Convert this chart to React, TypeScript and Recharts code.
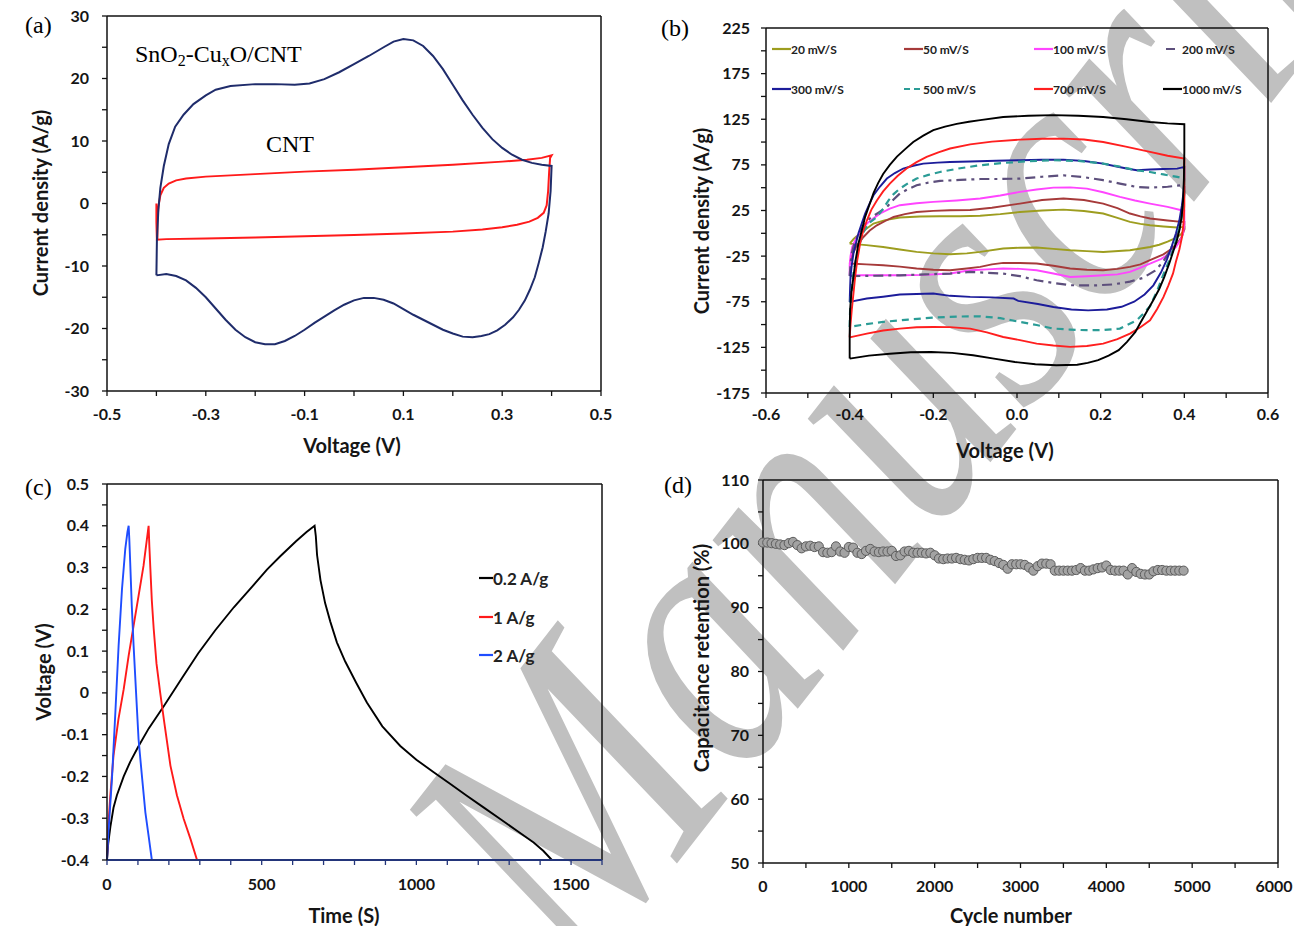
import { LineChart, Line, XAxis, YAxis, ReferenceLine, ScatterChart, Scatter } from 'recharts';

const SANS = 'Lato, "Open Sans", sans-serif';
const SERIF = '"Liberation Serif", "Times New Roman", serif';
const INK = '#151515';

// ---------- (a) CV at one scan rate: [voltage, current density] ----------
const A_COMPOSITE = [
  [-0.4, -11.5], [-0.399, -6], [-0.396, -1], [-0.392, 2.5], [-0.385, 6], [-0.375, 9.5], [-0.362, 12.3],
  [-0.345, 14.2], [-0.325, 15.9], [-0.3, 17.3], [-0.28, 18.2], [-0.25, 18.8], [-0.2, 19.1], [-0.16, 19.1],
  [-0.12, 19], [-0.09, 19.2], [-0.06, 19.9], [-0.03, 21], [0, 22.3], [0.03, 23.6], [0.06, 25], [0.08, 25.9],
  [0.1, 26.3], [0.12, 26.1], [0.14, 25.2], [0.16, 23.6], [0.18, 21.5], [0.2, 19], [0.22, 16.5], [0.24, 14.2],
  [0.26, 12.1], [0.28, 10.3], [0.3, 8.9], [0.32, 7.8], [0.34, 7], [0.36, 6.5], [0.38, 6.2], [0.4, 6],
  [0.398, 2], [0.394, -1.6], [0.388, -4.5], [0.382, -7], [0.374, -9.5], [0.366, -11.8], [0.356, -13.8],
  [0.346, -15.5], [0.334, -17], [0.322, -18.2], [0.306, -19.4], [0.29, -20.3], [0.274, -20.9], [0.258, -21.2],
  [0.24, -21.4], [0.22, -21.3], [0.2, -20.8], [0.18, -20.2], [0.16, -19.4], [0.14, -18.6], [0.12, -17.8],
  [0.1, -16.9], [0.08, -16], [0.06, -15.4], [0.04, -15.1], [0.02, -15.1], [0, -15.5], [-0.02, -16.2],
  [-0.04, -17.1], [-0.06, -18.1], [-0.08, -19.1], [-0.1, -20.2], [-0.12, -21.2], [-0.14, -22], [-0.16, -22.5],
  [-0.18, -22.5], [-0.2, -22.2], [-0.22, -21.4], [-0.24, -20.2], [-0.26, -18.6], [-0.28, -16.8], [-0.3, -15],
  [-0.32, -13.5], [-0.34, -12.3], [-0.36, -11.6], [-0.38, -11.3], [-0.4, -11.5],
];
const A_CNT = [
  [-0.4, 0], [-0.4, -3], [-0.399, -5.8], [-0.38, -5.7], [-0.3, -5.6], [-0.2, -5.45], [-0.1, -5.25], [0, -5.05],
  [0.1, -4.8], [0.2, -4.5], [0.26, -4.15], [0.3, -3.8], [0.33, -3.4], [0.355, -2.9], [0.372, -2.3], [0.384, -1.5],
  [0.39, -0.3], [0.393, 2], [0.395, 5], [0.397, 7.3], [0.4, 7.7], [0.38, 7.3], [0.35, 7], [0.3, 6.7], [0.2, 6.2],
  [0.1, 5.8], [0, 5.4], [-0.1, 5.1], [-0.2, 4.7], [-0.3, 4.3], [-0.34, 4], [-0.36, 3.7], [-0.375, 3.2],
  [-0.385, 2.5], [-0.392, 1.3], [-0.396, -0.5], [-0.398, -3], [-0.398, -5.7],
];
const A_X_TICKS = [-0.5, -0.4, -0.3, -0.2, -0.1, 0, 0.1, 0.2, 0.3, 0.4, 0.5];
const A_X_LABELS = [-0.5, -0.3, -0.1, 0.1, 0.3, 0.5];
const A_Y_TICKS = [-30, -25, -20, -15, -10, -5, 0, 5, 10, 15, 20, 25, 30];
const A_Y_LABELS = [-30, -20, -10, 0, 10, 20, 30];

// ---------- (b) CV at several scan rates ----------
const B_20 = [
  [-0.4, -11.3], [-0.39, -6], [-0.375, 0], [-0.36, 5], [-0.343, 10.7], [-0.315, 14.5], [-0.28, 17.3],
  [-0.232, 18.5], [-0.184, 18.7], [-0.136, 18.7], [-0.088, 19.2], [-0.04, 21], [0.007, 23.4], [0.06, 25],
  [0.111, 26], [0.16, 24.5], [0.206, 21.7], [0.24, 17], [0.27, 12.5], [0.295, 10.3], [0.318, 8.8], [0.35, 7.5],
  [0.383, 6.3], [0.4, 7], [0.4, 4], [0.392, -1], [0.38, -5], [0.36, -9], [0.34, -12.5], [0.318, -15],
  [0.27, -18.5], [0.206, -20.4], [0.167, -19.5], [0.127, -18.5], [0.087, -17], [0.047, -15.6], [0.007, -15.8],
  [-0.033, -16.7], [-0.088, -20.4], [-0.12, -22], [-0.16, -23], [-0.2, -22], [-0.24, -20.4], [-0.28, -17.8],
  [-0.32, -15], [-0.36, -13], [-0.4, -11.3],
];
const B_50 = [
  [-0.4, -33.1], [-0.395, -25], [-0.385, -15], [-0.367, -4], [-0.352, 3], [-0.335, 8.8], [-0.315, 13.5],
  [-0.295, 17.9], [-0.268, 21], [-0.24, 23.4], [-0.2, 24.6], [-0.16, 25.3], [-0.112, 25.5], [-0.06, 28],
  [0.007, 32.6], [0.06, 36.5], [0.111, 38.1], [0.16, 36.5], [0.206, 32.6], [0.24, 27.5], [0.27, 21.7],
  [0.295, 18.5], [0.318, 16.2], [0.36, 14], [0.393, 12.5], [0.4, 12.5], [0.4, 5], [0.395, -3], [0.385, -10],
  [0.37, -17], [0.35, -23], [0.318, -29.5], [0.295, -34], [0.27, -36.8], [0.24, -39], [0.206, -40.5],
  [0.167, -40], [0.127, -38.6], [0.087, -35.5], [0.047, -33.1], [0.007, -32.6], [-0.033, -32.4], [-0.06, -34],
  [-0.088, -36.8], [-0.12, -38.5], [-0.16, -40.5], [-0.2, -40], [-0.24, -38.6], [-0.28, -36.5], [-0.32, -35],
  [-0.36, -34], [-0.4, -33.1],
];
const B_100 = [
  [-0.4, -46], [-0.4, -35], [-0.398, -25], [-0.394, -15], [-0.383, -4], [-0.372, 3], [-0.359, 10.7],
  [-0.343, 16.5], [-0.327, 21.7], [-0.304, 27], [-0.28, 30.8], [-0.24, 33], [-0.2, 34.4], [-0.144, 36],
  [-0.088, 38.1], [-0.04, 41.5], [0.007, 45.4], [0.047, 48], [0.087, 50.1], [0.127, 50.3], [0.167, 49],
  [0.206, 45], [0.246, 39.9], [0.282, 36], [0.318, 32.6], [0.36, 29], [0.393, 25.3], [0.4, 25], [0.4, 10],
  [0.397, 0], [0.39, -8], [0.38, -15], [0.365, -22], [0.345, -28], [0.318, -33.1], [0.294, -38], [0.27, -42.3],
  [0.24, -45], [0.206, -46], [0.167, -47], [0.127, -47.8], [0.087, -44], [0.047, -40.5], [0.007, -39],
  [-0.033, -38.6], [-0.072, -39.5], [-0.112, -40.5], [-0.16, -44.1], [-0.22, -45.5], [-0.28, -46], [-0.34, -46],
  [-0.4, -46],
];
const B_200 = [
  [-0.4, -47], [-0.398, -35], [-0.395, -22], [-0.388, -10], [-0.378, 0], [-0.365, 10], [-0.35, 17], [-0.33, 23],
  [-0.311, 28.9], [-0.295, 37], [-0.28, 43.6], [-0.26, 48.5], [-0.24, 52.7], [-0.212, 55.5], [-0.184, 57.4],
  [-0.136, 58.5], [-0.088, 59.5], [-0.04, 59.5], [0.007, 60], [0.06, 62], [0.111, 63.6], [0.16, 61.5],
  [0.206, 58.2], [0.246, 54.5], [0.286, 50.8], [0.318, 50.1], [0.36, 51], [0.393, 52.7], [0.4, 53], [0.4, 45],
  [0.397, 30], [0.39, 12], [0.38, -5], [0.365, -20], [0.348, -32], [0.33, -41], [0.3, -49], [0.27, -53],
  [0.23, -56], [0.19, -57], [0.15, -57], [0.127, -56.9], [0.087, -54.5], [0.047, -51.4], [0.007, -47],
  [-0.033, -44.1], [-0.112, -42.3], [-0.16, -44.1], [-0.22, -45], [-0.28, -46], [-0.34, -46.5], [-0.4, -47],
];
const B_300 = [
  [-0.4, -75.2], [-0.399, -60], [-0.398, -47.8], [-0.395, -35], [-0.391, -22.2], [-0.385, -11], [-0.379, 0],
  [-0.371, 11], [-0.363, 21.7], [-0.353, 32], [-0.343, 41.7], [-0.328, 51], [-0.311, 60], [-0.292, 66],
  [-0.272, 71], [-0.248, 74], [-0.224, 76.4], [-0.19, 77.5], [-0.16, 78.2], [-0.112, 78.7], [-0.05, 79.5],
  [0.007, 80.1], [0.06, 80.6], [0.111, 80.8], [0.16, 79.3], [0.206, 76.4], [0.235, 73.5], [0.262, 71],
  [0.286, 69.1], [0.318, 69.9], [0.35, 70.5], [0.383, 70.9], [0.4, 72.8], [0.4, 60], [0.398, 45], [0.394, 30],
  [0.388, 14], [0.38, 0], [0.37, -14], [0.358, -29], [0.344, -43], [0.326, -57], [0.305, -67], [0.28, -75],
  [0.25, -80.5], [0.215, -83.5], [0.17, -84.5], [0.13, -83.5], [0.087, -80.7], [0.05, -77.5], [0.003, -74],
  [-0.008, -71.5], [-0.06, -70.2], [-0.112, -69.7], [-0.16, -68.5], [-0.2, -66], [-0.24, -66.5], [-0.28, -67.1],
  [-0.32, -69.5], [-0.359, -71.5], [-0.4, -75.2],
];
const B_500 = [
  [-0.4, -102.6], [-0.399, -85], [-0.397, -70], [-0.394, -55], [-0.39, -40], [-0.383, -25], [-0.375, -10],
  [-0.365, 3], [-0.352, 12], [-0.335, 17.9], [-0.32, 27], [-0.307, 36.2], [-0.295, 43], [-0.28, 49], [-0.26, 55],
  [-0.24, 60], [-0.212, 64], [-0.184, 67.2], [-0.14, 71], [-0.088, 74.6], [-0.033, 77.1], [0.027, 79],
  [0.087, 80.1], [0.147, 79.3], [0.206, 76.4], [0.246, 73], [0.286, 69.1], [0.318, 67.2], [0.35, 64.5],
  [0.383, 61.8], [0.4, 60], [0.4, 45], [0.398, 30], [0.393, 15], [0.385, 0], [0.375, -15], [0.362, -32],
  [0.35, -45], [0.335, -63], [0.318, -80], [0.3, -89], [0.286, -95.3], [0.246, -104.4], [0.207, -106],
  [0.167, -106.2], [0.127, -105.5], [0.087, -104.4], [0.047, -100.5], [0.007, -97.1], [-0.04, -93],
  [-0.088, -90.9], [-0.14, -91.2], [-0.2, -92.3], [-0.26, -94.5], [-0.32, -97.1], [-0.36, -99.5], [-0.4, -102.6],
];
const B_700 = [
  [-0.4, -114], [-0.398, -100], [-0.395, -84], [-0.391, -66], [-0.387, -48], [-0.382, -30], [-0.375, -11],
  [-0.368, 2], [-0.359, 14], [-0.348, 26], [-0.335, 36], [-0.32, 46], [-0.304, 54.5], [-0.285, 63], [-0.264, 71],
  [-0.24, 78], [-0.216, 83.7], [-0.188, 88.8], [-0.16, 92.9], [-0.112, 97.5], [-0.06, 100.5], [0.007, 102.7],
  [0.06, 103.6], [0.111, 103.8], [0.16, 102.8], [0.206, 100.1], [0.26, 95], [0.318, 89.2], [0.36, 85], [0.4, 82],
  [0.4, 60], [0.4, 30], [0.398, 10], [0.394, -5], [0.388, -18], [0.38, -31], [0.373, -44], [0.362, -57],
  [0.35, -70], [0.335, -83], [0.318, -95.3], [0.295, -103], [0.27, -109.9], [0.24, -116], [0.206, -120.9],
  [0.167, -123.5], [0.127, -124.5], [0.087, -123], [0.047, -120.9], [0.007, -117], [-0.033, -113.6],
  [-0.072, -108.5], [-0.112, -104.4], [-0.16, -102.8], [-0.2, -102.6], [-0.24, -103], [-0.28, -104.4],
  [-0.32, -106.5], [-0.359, -109.9], [-0.4, -114],
];
const B_1000 = [
  [-0.4, -137.3], [-0.4, -110], [-0.399, -84], [-0.396, -65], [-0.391, -48], [-0.386, -30], [-0.379, -11],
  [-0.371, 3], [-0.363, 18], [-0.353, 31], [-0.343, 44], [-0.332, 55], [-0.32, 65], [-0.304, 75], [-0.287, 84],
  [-0.268, 92], [-0.248, 100], [-0.224, 107], [-0.2, 113], [-0.172, 117], [-0.144, 120], [-0.115, 122.3],
  [-0.088, 124], [-0.033, 127.5], [0.027, 128.8], [0.087, 129.5], [0.147, 128.8], [0.206, 127.5], [0.262, 125],
  [0.318, 122], [0.36, 120.5], [0.4, 119.5], [0.4, 90], [0.399, 60], [0.397, 36], [0.394, 20], [0.389, 5],
  [0.382, -8], [0.374, -19], [0.364, -33], [0.352, -48], [0.34, -61], [0.326, -73], [0.31, -86], [0.295, -98],
  [0.283, -108], [0.263, -119], [0.243, -128], [0.219, -134], [0.194, -139], [0.169, -142], [0.144, -144],
  [0.094, -144.6], [0.044, -143.5], [-0.005, -141], [-0.055, -137.3], [-0.105, -133.7], [-0.155, -131],
  [-0.205, -130], [-0.254, -130.4], [-0.304, -132], [-0.354, -134], [-0.4, -137.3],
];
const B_X_TICKS = [-0.6, -0.5, -0.4, -0.3, -0.2, -0.1, 0, 0.1, 0.2, 0.3, 0.4, 0.5, 0.6];
const B_X_LABELS = [-0.6, -0.4, -0.2, 0, 0.2, 0.4, 0.6];
const B_Y_TICKS = [-175, -150, -125, -100, -75, -50, -25, 0, 25, 50, 75, 100, 125, 150, 175, 200, 225];
const B_Y_LABELS = [-175, -125, -75, -25, 25, 75, 125, 175, 225];

// ---------- (c) charge / discharge: [time s, voltage] ----------
const C_02 = [
  [0, -0.4], [4, -0.36], [11, -0.32], [21, -0.275], [32, -0.245], [54, -0.2], [75, -0.165], [100, -0.13],
  [135, -0.085], [185, -0.03], [242, 0.035], [295, 0.095], [350, 0.15], [410, 0.205], [470, 0.255],
  [517, 0.295], [560, 0.327], [611, 0.363], [645, 0.385], [671, 0.4], [675, 0.375], [679, 0.33], [690, 0.27],
  [705, 0.215], [722, 0.17], [743, 0.121], [770, 0.075], [805, 0.025], [840, -0.023], [890, -0.08],
  [948, -0.127], [1000, -0.16], [1056, -0.19], [1110, -0.218], [1163, -0.246], [1217, -0.274], [1271, -0.302],
  [1325, -0.33], [1379, -0.358], [1410, -0.378], [1438, -0.4],
];
const C_1 = [
  [0, -0.4], [4, -0.32], [10.7, -0.246], [21, -0.15], [37, -0.063], [54, 0.009], [70, 0.089], [86, 0.161],
  [102, 0.232], [118, 0.304], [129, 0.368], [134.5, 0.4], [137, 0.35], [140, 0.3], [145, 0.22], [151, 0.153],
  [160, 0.07], [172, 0], [185, -0.07], [205, -0.174], [226, -0.245], [248, -0.302], [270, -0.35], [291, -0.4],
];
const C_2 = [
  [0, -0.4], [5, -0.33], [16, -0.206], [27, -0.047], [37.5, 0.113], [48.5, 0.249], [59, 0.344], [66, 0.385],
  [70, 0.4], [72, 0.37], [75, 0.312], [80, 0.21], [86, 0.113], [94, 0], [102, -0.111], [113, -0.2], [124, -0.286],
  [135, -0.345], [145, -0.4],
];
const C_X_TICKS = [0, 100, 200, 300, 400, 500, 600, 700, 800, 900, 1000, 1100, 1200, 1300, 1400, 1500, 1600];
const C_X_LABELS = [0, 500, 1000, 1500];
const C_Y_TICKS = [-0.4, -0.35, -0.3, -0.25, -0.2, -0.15, -0.1, -0.05, 0, 0.05, 0.1, 0.15, 0.2, 0.25, 0.3, 0.35, 0.4, 0.45, 0.5];
const C_Y_LABELS = [-0.4, -0.3, -0.2, -0.1, 0, 0.1, 0.2, 0.3, 0.4, 0.5];

// ---------- (d) cycling stability ----------
const D_CYCLES = [
  0, 50, 100, 150, 200, 250, 300, 350, 400, 450, 500, 550, 600, 650, 700, 750, 800, 850, 900, 950,
  1000, 1050, 1100, 1150, 1200, 1250, 1300, 1350, 1400, 1450, 1500, 1550, 1600, 1650, 1700, 1750, 1800, 1850, 1900, 1950,
  2000, 2050, 2100, 2150, 2200, 2250, 2300, 2350, 2400, 2450, 2500, 2550, 2600, 2650, 2700, 2750, 2800, 2850, 2900, 2950,
  3000, 3050, 3100, 3150, 3200, 3250, 3300, 3350, 3400, 3450, 3500, 3550, 3600, 3650, 3700, 3750, 3800, 3850, 3900, 3950,
  4000, 4050, 4100, 4150, 4200, 4250, 4300, 4350, 4400, 4450, 4500, 4550, 4600, 4650, 4700, 4750, 4800, 4850, 4900,
];
const D_RETENTION = [
  100.2, 100.2, 100.1, 100.0, 99.9, 99.8, 100.1, 100.3, 99.8, 99.3, 99.6, 99.7, 99.5, 99.6, 98.7, 98.6, 98.7, 99.6, 98.8, 98.6,
  99.5, 99.4, 98.6, 98.4, 98.9, 99.2, 98.8, 98.7, 98.8, 98.8, 98.9, 98.1, 98.2, 98.8, 98.9, 98.6, 98.6, 98.6, 98.5, 98.6,
  98.2, 97.7, 97.6, 97.7, 97.7, 97.8, 97.6, 97.5, 97.4, 97.6, 97.8, 97.8, 97.8, 97.5, 97.3, 97.0, 96.7, 96.1, 96.8, 96.8,
  96.8, 96.7, 96.3, 95.8, 96.5, 96.9, 96.9, 96.8, 95.8, 95.8, 95.8, 95.8, 95.8, 95.9, 96.2, 95.8, 95.8, 96.0, 96.2, 96.3,
  96.6, 95.9, 95.8, 95.8, 95.8, 95.2, 96.2, 95.6, 95.3, 95.2, 95.2, 95.7, 95.9, 95.9, 95.8, 95.8, 95.8, 95.8, 95.8,
];
const D_X_TICKS = [0, 500, 1000, 1500, 2000, 2500, 3000, 3500, 4000, 4500, 5000, 5500, 6000];
const D_X_LABELS = [0, 1000, 2000, 3000, 4000, 5000, 6000];
const D_Y_TICKS = [50, 55, 60, 65, 70, 75, 80, 85, 90, 95, 100, 105, 110];
const D_Y_LABELS = [50, 60, 70, 80, 90, 100, 110];

const toPts = (rows: number[][]) => rows.map(([x, y]) => ({ x, y }));
const retention = D_CYCLES.map((c, i) => ({ x: c, y: D_RETENTION[i] }));

const B_SERIES = [
  { name: '20 mV/S', data: B_20, color: '#9d9d1f', dash: undefined },
  { name: '50 mV/S', data: B_50, color: '#a63a3a', dash: undefined },
  { name: '100 mV/S', data: B_100, color: '#ff45ff', dash: undefined },
  { name: '200 mV/S', data: B_200, color: '#5d4f7c', dash: '10 5 3 5' },
  { name: '300 mV/S', data: B_300, color: '#1c1c9a', dash: undefined },
  { name: '500 mV/S', data: B_500, color: '#2b9c96', dash: '7 5' },
  { name: '700 mV/S', data: B_700, color: '#ff1f1f', dash: undefined },
  { name: '1000 mV/S', data: B_1000, color: '#000000', dash: undefined },
];
const C_SERIES = [
  { name: '0.2 A/g', data: C_02, color: '#000000' },
  { name: '1 A/g', data: C_1, color: '#ff1a1a' },
  { name: '2 A/g', data: C_2, color: '#1f4dff' },
];

const hasLabel = (labels: number[], v: number) => labels.some((l) => Math.abs(l - v) < 1e-9);

// tick renderer: every tick gets a mark, only the listed ones get text
const makeTick = (labels: number[], fmt: (v: number) => string, side: 'x' | 'y', maxX = Infinity) => (props: any) => {
  const { x, y, payload } = props;
  if (!hasLabel(labels, payload.value)) return <g />;
  return (
    <text
      x={Math.min(x, maxX)}
      y={y}
      dy={side === 'x' ? '0.71em' : '0.35em'}
      textAnchor={side === 'x' ? 'middle' : 'end'}
      fontFamily={SANS}
      fontWeight={700}
      fontSize={16}
      fill={INK}
    >
      {fmt(payload.value)}
    </text>
  );
};

const xTitle = (text: string, cx: number, cy: number) => () => (
  <text x={cx} y={cy} textAnchor="middle" dominantBaseline="central" fontFamily={SANS} fontWeight={700} fontSize={20} fill={INK}>
    {text}
  </text>
);
const yTitle = (text: string, cx: number, cy: number) => () => (
  <text
    x={cx}
    y={cy}
    transform={`rotate(-90 ${cx} ${cy})`}
    textAnchor="middle"
    dominantBaseline="central"
    fontFamily={SANS}
    fontWeight={700}
    fontSize={20}
    fill={INK}
  >
    {text}
  </text>
);

const fix1 = (v: number) => v.toFixed(1);
const int = (v: number) => String(Math.round(v));
const volt = (v: number) => (Math.abs(v) < 1e-9 ? '0' : v.toFixed(1));

const axisLine = { stroke: '#111', strokeWidth: 1.5 };
const tickLine = { stroke: '#111', strokeWidth: 1.3 };
const Y_W = 60;
const X_H = 50;

const PanelLabel = ({ text, left, top }: { text: string; left: number; top: number }) => (
  <div style={{ position: 'absolute', left, top, fontFamily: SERIF, fontSize: 24, lineHeight: 1, color: '#000' }}>{text}</div>
);

const Swatch = ({ color, dash, width }: { color: string; dash?: string; width: number }) => (
  <svg width={width} height={4} style={{ display: 'block', flex: 'none' }}>
    <line x1={0} y1={2} x2={width} y2={2} stroke={color} strokeWidth={2.2} strokeDasharray={dash} />
  </svg>
);

// legend slots for (b)
const B_LEGEND_X = [772, 904, 1034, 1163];
const B_LEGEND_Y = [49, 89];
const C_LEGEND_Y = [578, 617, 655];

export default function App() {
  return (
    <div style={{ position: 'absolute', left: 0, top: 0, width: 1294, height: 926, background: '#fff', overflow: 'hidden' }}>
      {/* watermark behind the plots */}
      <svg width={1294} height={926} style={{ position: 'absolute', left: 0, top: 0 }}>
        <text
          transform="translate(582 985) rotate(-52) scale(1 1.2)"
          fontFamily={SERIF}
          fontStyle="italic"
          fontSize={310}
          fill="#c0c0c0"
        >
          Manuscript
        </text>
      </svg>

      {/* (a) */}
      <div style={{ position: 'absolute', left: 0, top: 0 }}>
        <LineChart width={620} height={470} margin={{ top: 16, right: 19, bottom: 470 - 391 - X_H, left: 107 - Y_W }}>
          <XAxis
            type="number"
            dataKey="x"
            domain={[-0.5, 0.5]}
            ticks={A_X_TICKS}
            interval={0}
            height={X_H}
            axisLine={axisLine}
            tickLine={tickLine}
            tickSize={5}
            tickMargin={13}
            tick={makeTick(A_X_LABELS, fix1, 'x')}
            label={xTitle('Voltage (V)', 352, 445)}
          />
          <YAxis
            type="number"
            domain={[-30, 30]}
            ticks={A_Y_TICKS}
            interval={0}
            width={Y_W}
            axisLine={axisLine}
            tickLine={tickLine}
            tickSize={5}
            tickMargin={13}
            tick={makeTick(A_Y_LABELS, int, 'y')}
            label={yTitle('Current density (A/g)', 40, 203)}
          />
          <ReferenceLine y={30} stroke="#111" strokeWidth={1.5} />
          <ReferenceLine x={0.5} stroke="#111" strokeWidth={1.5} />
          <Line data={toPts(A_CNT)} dataKey="y" type="linear" stroke="#ff1a1a" strokeWidth={2} dot={false} isAnimationActive={false} />
          <Line data={toPts(A_COMPOSITE)} dataKey="y" type="linear" stroke="#1f2c6b" strokeWidth={2} dot={false} isAnimationActive={false} />
        </LineChart>
      </div>
      <div style={{ position: 'absolute', left: 135, top: 41, fontFamily: SERIF, fontSize: 24, lineHeight: 1.1, color: '#000', whiteSpace: 'nowrap' }}>
        SnO<span style={{ fontSize: 16, verticalAlign: -4 }}>2</span>-Cu<span style={{ fontSize: 16, verticalAlign: -4 }}>x</span>O/CNT
      </div>
      <div style={{ position: 'absolute', left: 266, top: 131, fontFamily: SERIF, fontSize: 24, lineHeight: 1.1, color: '#000' }}>CNT</div>
      <PanelLabel text="(a)" left={25} top={13} />

      {/* (b) */}
      <div style={{ position: 'absolute', left: 640, top: 0 }}>
        <LineChart width={654} height={470} margin={{ top: 28, right: 640 + 654 - 1268, bottom: 470 - 393 - X_H, left: 766 - 640 - Y_W }}>
          <XAxis
            type="number"
            dataKey="x"
            domain={[-0.6, 0.6]}
            ticks={B_X_TICKS}
            interval={0}
            height={X_H}
            axisLine={axisLine}
            tickLine={tickLine}
            tickSize={5}
            tickMargin={11}
            tick={makeTick(B_X_LABELS, fix1, 'x')}
            label={xTitle('Voltage (V)', 365, 450)}
          />
          <YAxis
            type="number"
            domain={[-175, 225]}
            ticks={B_Y_TICKS}
            interval={0}
            width={Y_W}
            axisLine={axisLine}
            tickLine={tickLine}
            tickSize={5}
            tickMargin={11}
            tick={makeTick(B_Y_LABELS, int, 'y')}
            label={yTitle('Current density (A/g)', 61, 221)}
          />
          <ReferenceLine y={225} stroke="#111" strokeWidth={1.5} />
          <ReferenceLine x={0.6} stroke="#111" strokeWidth={1.5} />
          {B_SERIES.map((s) => (
            <Line
              key={s.name}
              name={s.name}
              data={toPts(s.data)}
              dataKey="y"
              type="linear"
              stroke={s.color}
              strokeWidth={s.dash ? 2.2 : 1.9}
              strokeDasharray={s.dash}
              dot={false}
              isAnimationActive={false}
            />
          ))}
        </LineChart>
      </div>
      {B_SERIES.map((s, i) => (
        <div
          key={s.name}
          style={{
            position: 'absolute',
            left: B_LEGEND_X[i % 4],
            top: B_LEGEND_Y[Math.floor(i / 4)] - 8,
            height: 16,
            display: 'flex',
            alignItems: 'center',
            fontFamily: SANS,
            fontWeight: 700,
            fontSize: 12,
            color: '#222',
            whiteSpace: 'nowrap',
          }}
        >
          <Swatch color={s.color} dash={s.dash ? (s.name === '200 mV/S' ? '0 3 9 7' : '6 4') : undefined} width={19} />
          <span>{s.name}</span>
        </div>
      ))}
      <PanelLabel text="(b)" left={661} top={16} />

      {/* (c) */}
      <div style={{ position: 'absolute', left: 0, top: 470 }}>
        <LineChart width={620} height={456} margin={{ top: 14, right: 18, bottom: 926 - 860 - X_H, left: 107 - Y_W }}>
          <XAxis
            type="number"
            dataKey="x"
            domain={[0, 1600]}
            ticks={C_X_TICKS}
            interval={0}
            height={X_H}
            axisLine={{ stroke: '#23357a', strokeWidth: 1.8 }}
            tickLine={{ stroke: '#23357a', strokeWidth: 1.3 }}
            tickSize={5}
            tickMargin={14}
            tick={makeTick(C_X_LABELS, int, 'x')}
            label={xTitle('Time (S)', 344, 445)}
          />
          <YAxis
            type="number"
            domain={[-0.4, 0.5]}
            ticks={C_Y_TICKS}
            interval={0}
            width={Y_W}
            axisLine={axisLine}
            tickLine={tickLine}
            tickSize={5}
            tickMargin={13}
            tick={makeTick(C_Y_LABELS, volt, 'y')}
            label={yTitle('Voltage (V)', 43, 202)}
          />
          <ReferenceLine y={0.5} stroke="#111" strokeWidth={1.5} />
          <ReferenceLine x={1600} stroke="#111" strokeWidth={1.5} />
          {C_SERIES.map((s) => (
            <Line key={s.name} name={s.name} data={toPts(s.data)} dataKey="y" type="linear" stroke={s.color} strokeWidth={1.9} dot={false} isAnimationActive={false} />
          ))}
        </LineChart>
      </div>
      {C_SERIES.map((s, i) => (
        <div
          key={s.name}
          style={{
            position: 'absolute',
            left: 479,
            top: C_LEGEND_Y[i] - 11,
            height: 22,
            display: 'flex',
            alignItems: 'center',
            fontFamily: SANS,
            fontWeight: 700,
            fontSize: 17,
            color: '#222',
            whiteSpace: 'nowrap',
          }}
        >
          <Swatch color={s.color} width={14} />
          <span>{s.name}</span>
        </div>
      ))}
      <PanelLabel text="(c)" left={25} top={475} />

      {/* (d) */}
      <div style={{ position: 'absolute', left: 650, top: 470 }}>
        <ScatterChart width={644} height={456} margin={{ top: 10, right: 16, bottom: 926 - 863 - X_H, left: 763 - 650 - Y_W }}>
          <XAxis
            type="number"
            dataKey="x"
            domain={[0, 6000]}
            ticks={D_X_TICKS}
            interval={0}
            height={X_H}
            axisLine={axisLine}
            tickLine={tickLine}
            tickSize={5}
            tickMargin={13}
            tick={makeTick(D_X_LABELS, int, 'x', 624)}
            label={xTitle('Cycle number', 361, 445)}
          />
          <YAxis
            type="number"
            dataKey="y"
            domain={[50, 110]}
            ticks={D_Y_TICKS}
            interval={0}
            width={Y_W}
            axisLine={axisLine}
            tickLine={tickLine}
            tickSize={5}
            tickMargin={9}
            tick={makeTick(D_Y_LABELS, int, 'y')}
            label={yTitle('Capacitance retention (%)', 51, 188)}
          />
          <ReferenceLine y={110} stroke="#111" strokeWidth={1.5} />
          <ReferenceLine x={6000} stroke="#111" strokeWidth={1.5} />
          <Scatter
            data={retention}
            isAnimationActive={false}
            shape={(p: any) => <circle cx={p.cx} cy={p.cy} r={4.6} fill="#a3a3a3" stroke="#5c5c5c" strokeWidth={1} />}
          />
        </ScatterChart>
      </div>
      <PanelLabel text="(d)" left={664} top={473} />
    </div>
  );
}
